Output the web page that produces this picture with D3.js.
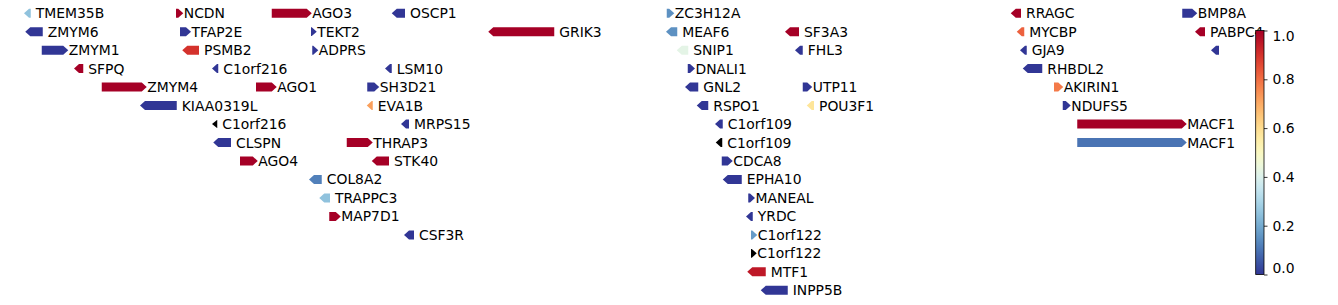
<!DOCTYPE html>
<html>
<head>
<meta charset="utf-8">
<script src="https://cdn.jsdelivr.net/npm/d3@7"></script>
<style>
  body { margin: 0; background: #fff; }
  text { font-family: "DejaVu Sans", sans-serif; }
</style>
</head>
<body>
<div id="chart"></div>
<script>
const width = 1338, height = 305;

// gene tracks: name, start/end (kb, relative), strand, track row, score (null = no score)
const genes   = ["TMEM35B","ZMYM6","ZMYM1","SFPQ","ZMYM4","KIAA0319L","NCDN","TFAP2E","PSMB2","C1orf216",
                 "C1orf216","CLSPN","AGO4","AGO1","AGO3","TEKT2","ADPRS","COL8A2","TRAPPC3","MAP7D1",
                 "THRAP3","EVA1B","SH3D21","STK40","LSM10","OSCP1","MRPS15","CSF3R","GRIK3","ZC3H12A",
                 "MEAF6","SNIP1","DNALI1","GNL2","RSPO1","C1orf109","C1orf109","CDCA8","EPHA10","MANEAL",
                 "YRDC","C1orf122","C1orf122","MTF1","INPP5B","SF3A3","FHL3","UTP11","POU3F1","RRAGC",
                 "MYCBP","GJA9","RHBDL2","AKIRIN1","NDUFS5","MACF1","MACF1","BMP8A","PABPC4",""];
const starts  = [96,101,167,296,407,560,704,720,729,848, 848,853,960,1024,1087,1244,1249,1236,1277,1317,
                 1387,1467,1469,1487,1540,1567,1604,1616,1953,2667, 2664,2707,2751,2740,2787,2860,2863,2887,2891,2993,
                 2984,3004,3004,2989,3043,3140,3180,3211,3227,4043, 4067,4080,4091,4216,4251,4309,4309,4729,4780,4844];
const ends    = [123,171,273,333,587,707,733,764,796,873, 869,924,1031,1107,1247,1267,1273,1287,1320,1363,
                 1491,1491,1517,1556,1567,1620,1636,1656,2217,2697, 2709,2753,2780,2793,2833,2891,2889,2931,2967,3020,
                 3011,3029,3027,3063,3151,3196,3211,3249,3256,4084, 4097,4107,4169,4253,4283,4747,4747,4789,4820,4876];
const strands = ["-","-","+","-","+","-","+","+","-","-", "-","-","+","+","+","+","+","-","-","+",
                 "+","-","+","-","-","-","-","-","-","+", "-","-","+","-","-","-","-","+","-","+",
                 "-","+","+","-","-","-","-","+","-","-", "-","-","-","+","+","+","+","+","-","-"];
const rows    = [0,1,2,3,4,5,0,1,2,3, 6,7,8,4,0,1,2,9,10,11, 7,5,4,8,3,0,6,12,1,0,
                 1,2,3,4,5,6,7,8,9,10, 11,12,13,14,15,1,2,4,5,0, 1,2,3,4,5,6,7,0,1,2];
const scores  = [0.25,0,0,1,1,0,1,0,0.9,0, null,0,1,1,1,0,0,0.12,0.25,1,
                 1,0.72,0,1,0,0,0,0,1,0.15, 0.15,0.42,0,0,0,0,null,0,0,0,
                 0,0.17,null,0.95,0,1,0,0,0.58,1, 0.82,0,0,0.78,0,1,0.1,0,1,0];
const cbTicks = [0, 0.2, 0.4, 0.6, 0.8, 1.0];

const data = genes.map((g, i) => ({
  name: g, start: starts[i], end: ends[i], strand: strands[i], row: rows[i], score: scores[i]
}));

const svg = d3.select("#chart").append("svg")
  .attr("width", width).attr("height", height);

const x = d3.scaleLinear().domain([0, 5352]).range([0, width]);
const y = d3.scaleLinear().domain([0, 15]).range([13.2, 290.3]);
const color = v => v == null ? "#000" : d3.interpolateRdYlBu(1 - v);

const headLen = 5, boxH = 9;

function arrowPath(d) {
  const x0 = x(d.start), x1 = x(d.end), yc = y(d.row);
  const w = x1 - x0;
  const hl = Math.min(headLen, w);
  const h = boxH * Math.min(1, w / 6) / 2;
  if (d.strand === "+") {
    return `M${x0},${yc - h}L${x1 - hl},${yc - h}L${x1},${yc}L${x1 - hl},${yc + h}L${x0},${yc + h}Z`;
  }
  return `M${x1},${yc - h}L${x0 + hl},${yc - h}L${x0},${yc}L${x0 + hl},${yc + h}L${x1},${yc + h}Z`;
}

const g = svg.append("g");

g.selectAll("path.gene")
  .data(data)
  .enter()
  .append("path")
    .attr("class", "gene")
    .attr("d", arrowPath)
    .attr("fill", d => color(d.score));

g.selectAll("text.label")
  .data(data)
  .enter()
  .append("text")
    .attr("class", "label")
    .attr("x", d => x(d.end) + (d.strand === "+" ? 0.5 : 5))
    .attr("y", d => y(d.row))
    .attr("dy", "0.36em")
    .style("font-size", "13.9px")
    .attr("fill", "#000")
    .text(d => d.name);

// colorbar
const cbX = 1255.7, cbW = 8.3;
const cbScale = d3.scaleLinear().domain([0, 1]).range([274.5, 30.5]);

const defs = svg.append("defs");
const grad = defs.append("linearGradient")
  .attr("id", "cbgrad").attr("x1", 0).attr("y1", 1).attr("x2", 0).attr("y2", 0);
d3.range(0, 1.0001, 0.05).forEach(t => {
  grad.append("stop").attr("offset", t).attr("stop-color", color(t));
});

svg.append("rect")
  .attr("x", cbX).attr("y", cbScale(1))
  .attr("width", cbW).attr("height", cbScale(0) - cbScale(1))
  .attr("fill", "url(#cbgrad)")
  .attr("stroke", "#000").attr("stroke-width", 0.8);

const cbAxis = svg.append("g")
  .attr("transform", `translate(${cbX + cbW},0)`)
  .call(d3.axisRight(cbScale).tickValues(cbTicks).tickSize(3.5).tickPadding(5).tickFormat(d3.format(".1f")));

cbAxis.select(".domain").remove();
cbAxis.selectAll(".tick line").attr("stroke", "#000").attr("stroke-width", 0.8);
cbAxis.selectAll(".tick text")
  .style("font-size", "13.9px")
  .attr("font-family", "DejaVu Sans")
  .attr("fill", "#000")
  .attr("dy", d => d === 1 ? "0.72em" : d === 0 ? "-0.12em" : "0.32em");
</script>
</body>
</html>
